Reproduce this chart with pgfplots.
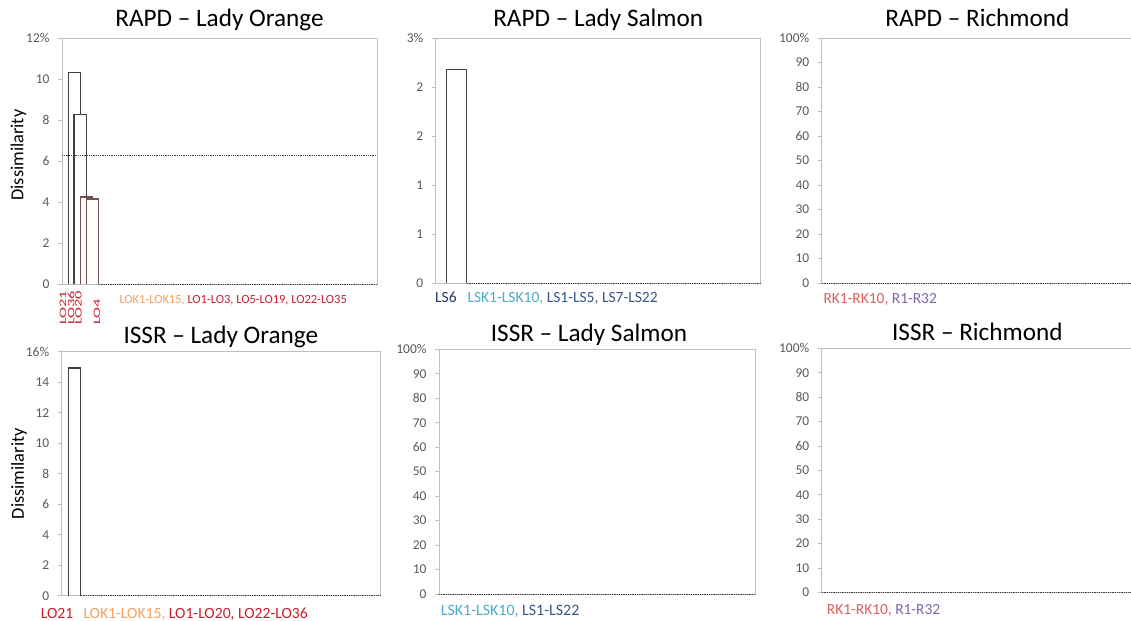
\documentclass[border=0pt]{standalone}
\usepackage{fontspec}
\setmainfont{Carlito}
\usepackage{pgfplots}
\pgfplotsset{compat=1.18}
\definecolor{framegray}{RGB}{191,191,191}
\definecolor{tickgray}{RGB}{89,89,89}
\definecolor{dgray}{RGB}{64,64,64}
\definecolor{brownish}{RGB}{115,80,80}
\definecolor{lorange}{RGB}{245,160,95}
\definecolor{lred}{RGB}{200,30,45}
\definecolor{navy}{RGB}{31,56,100}
\definecolor{lblue}{RGB}{75,172,198}
\definecolor{navyb}{RGB}{55,85,135}
\definecolor{rkred}{RGB}{220,95,95}
\definecolor{rpurple}{RGB}{128,100,170}
\pgfplotsset{
  panel/.style={
    scale only axis, clip=false, anchor=south west,
    axis line style={draw=framegray, line width=0.8bp},
    xtick=\empty, ytick pos=left, tick align=outside,
    major tick length=4bp,
    ytick style={draw=framegray, line width=0.6bp},
    yticklabel style={font=\fontsize{13.5}{15}\selectfont, text=tickgray, xshift=-5bp},
    title style={font=\fontsize{25.3}{29}\selectfont, anchor=base, at={(0.5,1)}},
    ylabel style={font=\fontsize{18.4}{20}\selectfont, anchor=center},
    xmin=0, ymin=0,
  },
  toprow/.style={title style={yshift=6bp}},
  botrow/.style={title style={yshift=2bp}},
  dendro/.style={no marks, line width=1.2bp, line join=miter},
  basel/.style={no marks, line width=0.9bp, dgray, dash pattern=on 1bp off 0.8bp},
}
\begin{document}
\begin{tikzpicture}
\path[use as bounding box] (0,0) rectangle (1131bp,621bp);
% ---------- RAPD Lady Orange
\begin{axis}[panel, toprow, at={(62bp,337bp)}, width=315bp, height=246bp,
  xmax=315, ymax=12, ytick={0,2,4,6,8,10,12}, yticklabels={0,2,4,6,8,10,12\%},
  title={RAPD – Lady Orange}, ylabel={Dissimilarity},
  ylabel style={at={(axis description cs:-0.138,0.524)}}]
\addplot[basel] coordinates {(36.7,0) (315,0)};
\addplot[basel] coordinates {(0,6.26) (315,6.26)};
\addplot[dendro, brownish] coordinates {(24.7,0) (24.7,4.15) (36.7,4.15) (36.7,0)};
\addplot[dendro, brownish] coordinates {(18.7,0) (18.7,4.24) (30.7,4.24) (30.7,4.15)};
\addplot[dendro, dgray] coordinates {(12,0) (12,8.26) (24.7,8.26) (24.7,4.24)};
\addplot[dendro, dgray] coordinates {(6.3,0) (6.3,10.33) (18.35,10.33) (18.35,8.26)};
\end{axis}
% ---------- RAPD Lady Salmon
\begin{axis}[panel, toprow, at={(435.7bp,338bp)}, width=325bp, height=245bp,
  xmax=325, ymax=3, ytick={0,0.6,1.2,1.8,2.4,3}, yticklabels={0,1,1,2,2,3\%},
  title={RAPD – Lady Salmon}]
\addplot[basel] coordinates {(31,0) (325,0)};
\addplot[dendro, dgray] coordinates {(11,0) (11,2.61) (31,2.61) (31,0)};
\end{axis}
% ---------- RAPD Richmond
\begin{axis}[panel, toprow, at={(821.7bp,338bp)}, width=311.3bp, height=245bp,
  xmax=311.3, ymax=100, ytick={0,10,...,100}, yticklabels={0,10,20,30,40,50,60,70,80,90,100\%},
  title={RAPD – Richmond}]
\addplot[basel] coordinates {(0,0) (311.3,0)};
\end{axis}
% ---------- ISSR Lady Orange
\begin{axis}[panel, botrow, at={(61.7bp,25.3bp)}, width=318.3bp, height=244bp,
  xmax=318.3, ymax=16, ytick={0,2,...,16}, yticklabels={0,2,4,6,8,10,12,14,16\%},
  title={ISSR – Lady Orange}, ylabel={Dissimilarity},
  ylabel style={at={(axis description cs:-0.134,0.5)}}]
\addplot[basel] coordinates {(19,0) (318.3,0)};
\addplot[dendro, dgray] coordinates {(6.6,0) (6.6,14.93) (19,14.93) (19,0)};
\end{axis}
% ---------- ISSR Lady Salmon
\begin{axis}[panel, botrow, at={(439bp,27bp)}, width=316bp, height=244.7bp,
  xmax=316, ymax=100, ytick={0,10,...,100}, yticklabels={0,10,20,30,40,50,60,70,80,90,100\%},
  title={ISSR – Lady Salmon}, title style={xshift=-8bp}]
\addplot[basel] coordinates {(0,0) (316,0)};
\end{axis}
% ---------- ISSR Richmond
\begin{axis}[panel, botrow, at={(821.7bp,28.7bp)}, width=311.3bp, height=244bp,
  xmax=311.3, ymax=100, ytick={0,10,...,100}, yticklabels={0,10,20,30,40,50,60,70,80,90,100\%},
  title={ISSR – Richmond}]
\addplot[basel] coordinates {(0,0) (311.3,0)};
\end{axis}
% ---------- cluster labels
\begin{scope}[every node/.style={inner sep=0pt}]
\node[anchor=base west, font=\fontsize{12.5}{14}\selectfont] at (119.3bp,317bp)
  {\textcolor{lorange}{LOK1-LOK15,} \textcolor{lred}{LO1-LO3, LO5-LO19, LO22-LO35}};
\foreach \xx/\lab in {63/LO21, 71/LO36, 78.5/LO20, 97/LO4}
  \node[rotate=90, anchor=west, text=lred, font=\fontsize{16.5}{18}\selectfont] at (\xx bp,296bp) {\scalebox{1}[0.6]{\lab}};
\node[anchor=base west, font=\fontsize{15.6}{17}\selectfont, text=navy] at (435bp,318bp) {LS6};
\node[anchor=base west, font=\fontsize{15.6}{17}\selectfont] at (467.3bp,318bp)
  {\textcolor{lblue}{LSK1-LSK10,} \textcolor{navyb}{LS1-LS5, LS7-LS22}};
\node[anchor=base west, font=\fontsize{15.5}{17}\selectfont] at (823.3bp,317.7bp)
  {\textcolor{rkred}{RK1-RK10,} \textcolor{rpurple}{R1-R32}};
\node[anchor=base west, font=\fontsize{15.7}{17}\selectfont, text=lred] at (40.7bp,2.7bp) {LO21};
\node[anchor=base west, font=\fontsize{15.7}{17}\selectfont] at (83.3bp,2.7bp)
  {\textcolor{lorange}{LOK1-LOK15,} \textcolor{lred}{LO1-LO20, LO22-LO36}};
\node[anchor=base west, font=\fontsize{16}{18}\selectfont] at (440.7bp,6bp)
  {\textcolor{lblue}{LSK1-LSK10,} \textcolor{navyb}{LS1-LS22}};
\node[anchor=base west, font=\fontsize{15.5}{17}\selectfont] at (826.7bp,6.7bp)
  {\textcolor{rkred}{RK1-RK10,} \textcolor{rpurple}{R1-R32}};
\end{scope}
\end{tikzpicture}
\end{document}
